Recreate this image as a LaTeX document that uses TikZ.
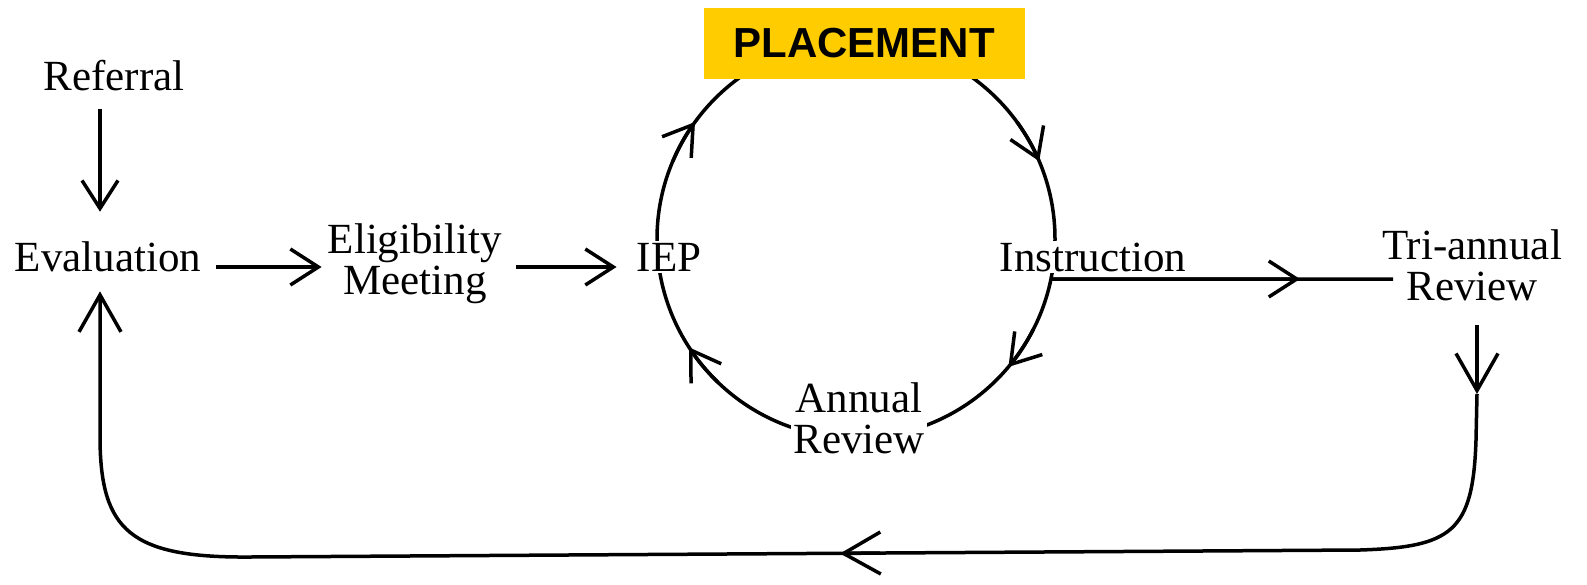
\documentclass[tikz,border=0pt]{standalone}
\usepackage{fontspec}
\setmainfont{Liberation Serif}
\newfontfamily\placefont{Liberation Sans}
\usetikzlibrary{arrows.meta,calc}
\definecolor{placeyellow}{HTML}{FFCC00}
\begin{document}
\begin{tikzpicture}[x=1pt,y=1pt,
  lbl/.style={font=\fontsize{43}{41}\selectfont, align=center, fill=white, inner sep=2pt},
  conn/.style={line width=3.5pt},
  arr/.style={conn, -{Straight Barb[length=28pt,width=36pt]}},
  arrbig/.style={conn, -{Straight Barb[length=37pt,width=42pt]}},
  placebox/.style={fill=placeyellow, minimum width=321pt, minimum height=71pt, inner sep=0pt,
    font=\placefont\bfseries\fontsize{42}{42}\selectfont},
]
\useasboundingbox (0,0) rectangle (1587,-584);
% cycle circle
\coordinate (C) at (856,-239);
\draw[conn] (C) circle[radius=199];
\draw[arr] ($(C)+(157:199)$) arc[start angle=157, end angle=144, radius=199];
\draw[arr] ($(C)+(36:199)$) arc[start angle=36, end angle=23, radius=199];
\draw[arr] ($(C)+(-27:199)$) arc[start angle=-27, end angle=-40, radius=199];
\draw[arr] ($(C)+(-134:199)$) arc[start angle=-134, end angle=-147, radius=199];

% nodes
\node[lbl] (ref)   at (114,-76)  {Referral};
\node[lbl] (eval)  at (108,-257) {Evaluation};
\node[lbl] (elig)  at (415,-264) {Eligibility\\Meeting};
\node[lbl] (iep)   at (669,-257) {IEP};
\node[lbl] (instr) at (1093,-257) {Instruction};
\node[lbl] (annual) at (859,-418) {Annual\\Review};
\node[lbl] (tri)   at (1472,-265) {Tri-annual\\Review};
\node[placebox] (place) at (864,-43.5) {PLACEMENT};

% connectors
\draw[arr, shorten <=15pt, shorten >=28pt] ([xshift=-14pt]ref.south) -- ([xshift=-8pt]eval.north);
\draw[arr, shorten <=13pt, shorten >=4pt] ([yshift=-10pt]eval.east) -- ([yshift=-3pt]elig.west);
\draw[arr, shorten <=12pt, shorten >=18pt] ([yshift=-3pt]elig.east) -- ([yshift=-10pt]iep.west);

\coordinate (istart) at ($(C)+(-11.6:199)$);
\coordinate (imid) at (1300,-279);
\coordinate (iend) at (1393,-279);
\draw[conn] (istart) -- (iend);
\draw[arr] (istart) -- (imid);

\coordinate (tdown) at (1477,-394);
\draw[arrbig, shorten <=22pt] ([xshift=5pt]tri.south) -- (tdown);

\coordinate (bmidA) at (880,-553);
\coordinate (bmidB) at (840,-553.5);
\draw[arrbig, shorten >=17pt] (tdown) -- (1476,-440)
  .. controls (1473,-532) and (1452,-547) .. (1360,-550)
  -- (250,-557)
  .. controls (130,-558) and (101,-530) .. (100,-440)
  -- ([xshift=-8pt]eval.south);
\draw[arrbig] (bmidA) -- (bmidB);
\end{tikzpicture}
\end{document}
